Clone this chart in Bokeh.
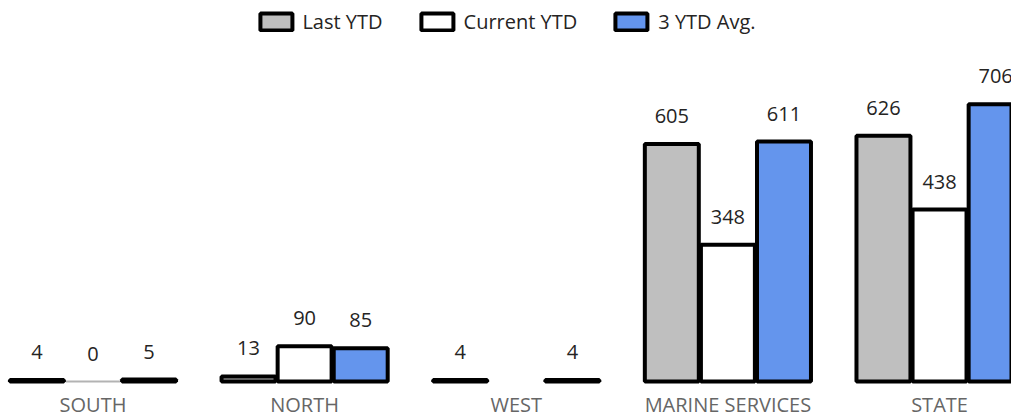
import math
from bokeh.plotting import figure
from bokeh.models import ColumnDataSource, Range1d, LabelSet, CDSView, BooleanFilter
from bokeh.transform import dodge
from bokeh.core.properties import value
from bokeh.embed import file_html
from bokeh.resources import INLINE

# ---- data ----
categories = ["SOUTH", "NORTH", "WEST", "MARINE SERVICES", "STATE"]
last_ytd = [4, 13, 4, 605, 626]
current_ytd = [0, 90, float("nan"), 348, 438]
avg_3ytd = [5, 85, 4, 611, 706]
series_names = ["Last YTD", "Current YTD", "3 YTD Avg."]

# ---- style ----
colors = ["#BFBFBF", "#FFFFFF", "#6495ED"]
offsets = [-0.265, 0.0, 0.265]
BAR_W = 0.255
FONT = "Open Sans"

p = figure(width=1011, height=418,
           x_range=Range1d(-0.437, 4.34), y_range=Range1d(-94, 970),
           output_backend="svg", toolbar_location=None, min_border=0)
p.xaxis.visible = False
p.yaxis.visible = False
p.grid.visible = False
p.outline_line_color = None

xs = list(range(len(categories)))

for name, vals, color, off in zip(series_names, [last_ytd, current_ytd, avg_3ytd], colors, offsets):
    labels = ["" if (isinstance(v, float) and math.isnan(v)) else str(int(v)) for v in vals]
    src = ColumnDataSource(dict(x=xs, top=vals, label=labels))
    main_mask = [not (isinstance(v, float) and math.isnan(v)) and v != 0 for v in vals]
    zero_mask = [(not (isinstance(v, float) and math.isnan(v))) and v == 0 for v in vals]
    p.vbar(x=dodge("x", off, range=p.x_range), top="top", bottom=0, width=BAR_W,
           source=src, view=CDSView(filter=BooleanFilter(main_mask)),
           fill_color=color, line_color="black", line_width=4, legend_label=name)
    if any(zero_mask):
        p.vbar(x=dodge("x", off, range=p.x_range), top="top", bottom=0, width=BAR_W,
               source=src, view=CDSView(filter=BooleanFilter(zero_mask)),
               fill_color=color, line_color="#B3B3B3", line_width=2)
    p.add_layout(LabelSet(x=dodge("x", off, range=p.x_range), y="top", text="label", source=src,
                          y_offset=21, text_align="center", text_baseline="alphabetic",
                          text_font=value(FONT), text_font_size="20px", text_color="#252423"))

cat_src = ColumnDataSource(dict(x=xs, y=[0] * len(categories), text=categories))
p.add_layout(LabelSet(x="x", y="y", text="text", source=cat_src, y_offset=-30,
                      text_align="center", text_baseline="alphabetic",
                      text_font=value(FONT), text_font_size="20px", text_color="#666666"))

lg = p.legend[0]
lg.location = "top_center"
lg.orientation = "horizontal"
lg.margin = 8
lg.padding = 4
lg.border_line_color = None
lg.background_fill_alpha = 0
lg.glyph_width = 40
lg.glyph_height = 21
lg.label_standoff = 7
lg.spacing = 34
lg.label_text_font = FONT
lg.label_text_font_size = "20px"
lg.label_text_color = "#252423"

open("out.html", "w").write(file_html(p, INLINE))
